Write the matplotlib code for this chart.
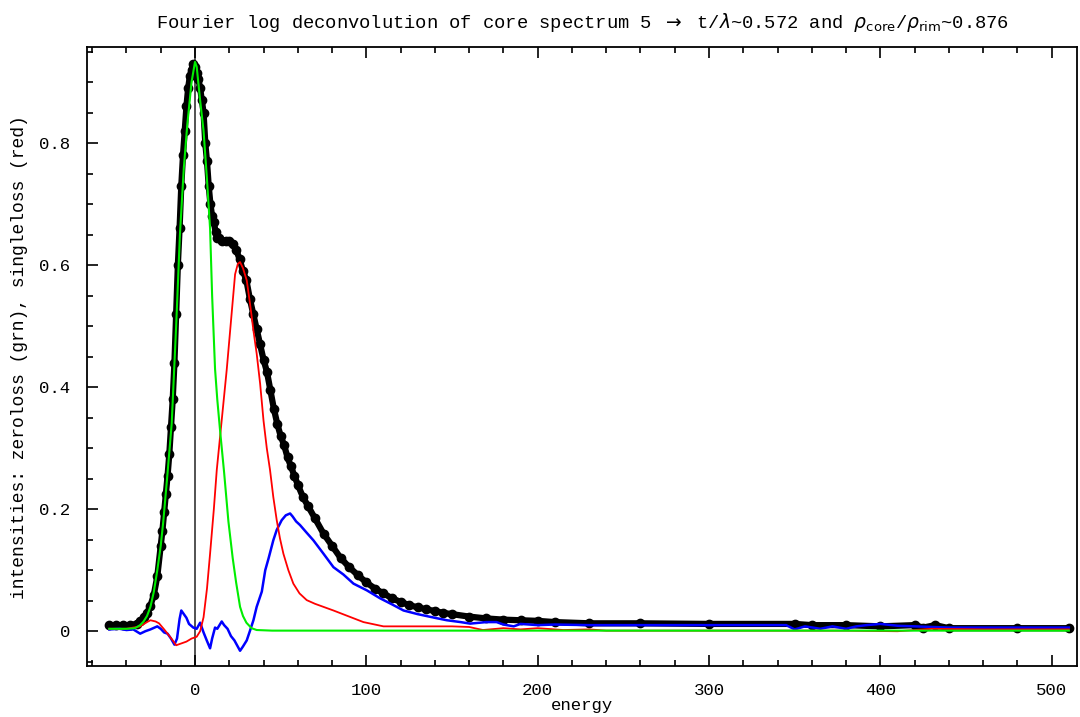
import matplotlib
matplotlib.use("Agg")
import matplotlib.pyplot as plt
from matplotlib.ticker import MultipleLocator

# ===========================================
# valeurs
# ===========================================

black_E = [-50, -46, -42, -38, -34, -32, -30, -28, -26, -24, -22, -20, -19, -18, -17, -16, -15, -14, -13,
           -12, -11, -10, -9, -8, -7, -6, -5, -4, -3, -2, -1, 0, 1, 2, 3, 4, 5, 6, 7, 8, 9, 10, 11, 12, 13,
           14, 16, 18, 20, 22, 24, 26, 28, 30, 32, 34, 36, 38, 40, 42, 44, 46, 48, 50, 52, 54, 56, 58, 60,
           63, 66, 70, 75, 80, 85, 90, 95, 100, 105, 110, 115, 120, 125, 130, 135, 140, 145, 150, 160, 170,
           180, 190, 200, 210, 230, 260, 300, 350, 360, 380, 400, 420, 425, 432, 440, 480, 510]
black_I = [0.010, 0.010, 0.010, 0.010, 0.012, 0.016, 0.023, 0.030, 0.042, 0.060, 0.090, 0.140, 0.165, 0.195,
           0.225, 0.255, 0.290, 0.335, 0.380, 0.440, 0.520, 0.600, 0.660, 0.730, 0.780, 0.820, 0.860, 0.890,
           0.910, 0.920, 0.930, 0.925, 0.915, 0.905, 0.890, 0.870, 0.850, 0.800, 0.770, 0.730, 0.700, 0.680,
           0.670, 0.655, 0.645, 0.645, 0.640, 0.640, 0.640, 0.635, 0.625, 0.610, 0.590, 0.575, 0.545, 0.520,
           0.495, 0.470, 0.445, 0.425, 0.395, 0.365, 0.340, 0.320, 0.305, 0.285, 0.270, 0.255, 0.240, 0.220,
           0.205, 0.185, 0.160, 0.140, 0.120, 0.105, 0.092, 0.080, 0.070, 0.062, 0.054, 0.048, 0.043, 0.039,
           0.036, 0.033, 0.030, 0.028, 0.024, 0.021, 0.019, 0.018, 0.017, 0.015, 0.013, 0.013, 0.012, 0.012,
           0.010, 0.010, 0.008, 0.010, 0.006, 0.010, 0.005, 0.005, 0.005]

green_E = [-50, -40, -35, -32, -30, -28, -26, -24, -22, -20, -18.5, -16, -13.6, -11, -8.8, -6.5, -4.5, -2, 0,
           1, 3, 5, 7, 8.8, 10, 11.7, 13, 14.6, 17, 19.5, 22, 24, 26.3, 28, 30, 33, 36, 45, 510]
green_I = [0.004, 0.004, 0.005, 0.010, 0.016, 0.025, 0.040, 0.065, 0.100, 0.140, 0.180, 0.260, 0.340, 0.500,
           0.650, 0.760, 0.830, 0.900, 0.933, 0.925, 0.870, 0.820, 0.740, 0.660, 0.550, 0.430, 0.380, 0.330,
           0.260, 0.180, 0.120, 0.080, 0.040, 0.025, 0.014, 0.005, 0.002, 0.001, 0.001]

red_E = [-50, -40, -32, -28, -26, -23, -21, -18, -16, -13, -11, -8, -5, -2, 1, 3, 5, 7, 8.8, 11, 12.7, 15.6,
         18.5, 21.4, 23.4, 25, 26.3, 28, 30.2, 32.1, 34.1, 36, 38, 40, 41.9, 43.8, 45.7, 47.7, 49.6, 51.6,
         54.5, 57.4, 61, 65.2, 70, 80.8, 90, 98.3, 110, 130, 150, 160, 168, 180, 190, 200, 215, 230, 240,
         300, 380, 410, 430, 460, 510]
red_I = [0.004, 0.004, 0.008, 0.015, 0.018, 0.016, 0.013, 0.003, -0.004, -0.015, -0.023, -0.020, -0.017,
         -0.012, -0.009, 0.000, 0.023, 0.070, 0.127, 0.200, 0.264, 0.346, 0.428, 0.521, 0.585, 0.602, 0.605,
         0.595, 0.575, 0.537, 0.493, 0.455, 0.406, 0.345, 0.300, 0.264, 0.220, 0.182, 0.152, 0.127, 0.100,
         0.078, 0.062, 0.051, 0.045, 0.034, 0.024, 0.015, 0.008, 0.008, 0.008, 0.007, 0.002, 0.005, 0.003,
         0.005, 0.002, 0.003, 0.001, 0.001, 0.001, 0.000, 0.004, 0.003, 0.003]

blue_E = [-50, -44, -40, -36, -32, -29, -26, -22, -20, -18, -16, -14, -12, -10.5, -9, -8, -6.5, -5, -3.5, -1,
          1, 3, 5, 7, 8.8, 10, 11.7, 13, 15.6, 17, 19, 21, 23, 26.3, 28, 30.2, 32, 34.1, 36, 39, 41, 43, 45.7,
          47.7, 50.6, 53, 55.5, 57, 59, 61.3, 65, 69.1, 75, 80.8, 86.6, 92.5, 100.3, 108, 115, 121.7, 130,
          140, 147, 155, 160.6, 170, 176, 180, 186, 190, 200, 210, 230, 260, 300, 345, 350, 356, 365, 372,
          380, 386, 392, 400, 410, 440, 480, 510]
blue_I = [0.003, 0.004, 0.002, 0.003, -0.004, 0.000, 0.003, 0.008, 0.004, -0.002, -0.004, -0.012, -0.022,
          -0.012, 0.020, 0.034, 0.028, 0.022, 0.012, 0.006, 0.004, 0.014, -0.002, -0.016, -0.028, -0.012,
          0.006, 0.004, 0.016, 0.010, 0.004, -0.008, -0.015, -0.032, -0.025, -0.015, 0.000, 0.018, 0.040,
          0.065, 0.100, 0.120, 0.149, 0.166, 0.182, 0.190, 0.193, 0.188, 0.180, 0.174, 0.162, 0.149, 0.127,
          0.105, 0.093, 0.078, 0.067, 0.054, 0.044, 0.034, 0.028, 0.022, 0.018, 0.015, 0.0125, 0.015, 0.015,
          0.011, 0.008, 0.012, 0.010, 0.011, 0.010, 0.010, 0.010, 0.010, 0.003, 0.008, 0.004, 0.008, 0.004,
          0.008, 0.010, 0.012, 0.009, 0.006, 0.006, 0.006]

title = (r"Fourier log deconvolution of core spectrum 5 $\rightarrow$ t/$\lambda$~0.572 and "
         r"$\rho_{\mathrm{core}}$/$\rho_{\mathrm{rim}}$~0.876")

# ===========================================
# affichage
# ===========================================

plt.rcParams['font.family'] = ['Liberation Mono', 'DejaVu Sans Mono']
plt.rcParams['mathtext.fontset'] = 'dejavusans'

fig = plt.figure(figsize=(10.8, 7.17), dpi=100)
ax = fig.add_axes([0.0806, 0.0711, 0.917, 0.863])

ax.axvline(0, color="#444444", lw=1.3, zorder=1)
ax.plot(black_E, black_I, color="black", lw=4.5, marker="o", ms=6, zorder=2)
ax.plot(blue_E, blue_I, color="#0000ff", lw=1.8, zorder=3)
ax.plot(red_E, red_I, color="#ff0000", lw=1.3, zorder=4)
ax.plot(green_E, green_I, color="#00ee00", lw=1.5, zorder=5)

ax.set_xlim(-63, 515)
ax.set_ylim(-0.057, 0.957)
ax.xaxis.set_major_locator(MultipleLocator(100))
ax.xaxis.set_minor_locator(MultipleLocator(20))
ax.yaxis.set_major_locator(MultipleLocator(0.2))
ax.yaxis.set_minor_locator(MultipleLocator(0.05))
ax.set_yticks([0, 0.2, 0.4, 0.6, 0.8])
ax.set_yticklabels(["0", "0.2", "0.4", "0.6", "0.8"])
ax.tick_params(which="both", direction="in", top=True, right=False, labelsize=12.5, width=1.2)
ax.tick_params(which="major", length=8, pad=12)
ax.tick_params(which="minor", length=4)
for s in ax.spines.values():
    s.set_linewidth(1.3)

ax.set_title(title, fontsize=13.5, pad=14)
ax.set_xlabel("energy", fontsize=12.5, labelpad=0)
ax.set_ylabel("intensities: zeroloss (grn), singleloss (red)", fontsize=13, labelpad=8)

fig.savefig("out.png", dpi=100)
